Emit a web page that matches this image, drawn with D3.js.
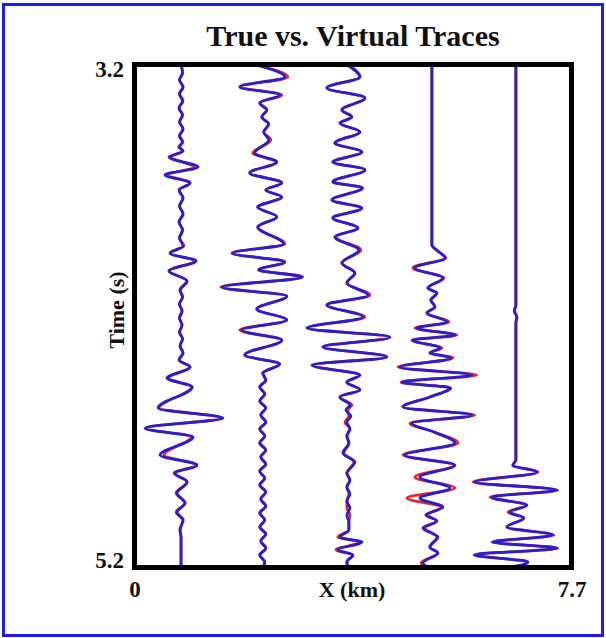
<!DOCTYPE html>
<html>
<head>
<meta charset="utf-8">
<script src="https://cdn.jsdelivr.net/npm/d3@7/dist/d3.min.js"></script>
<style>
  html, body { margin: 0; padding: 0; background: #fff; }
  svg { display: block; }
  text { font-family: "Liberation Serif", "Times New Roman", serif; font-weight: bold; fill: #111; }
  .axis path, .axis line { display: none; }
</style>
</head>
<body>
<svg id="chart" width="606" height="638"></svg>
<script>
// trace positions along the line (km)
var traceOffsets = [0.82, 2.26, 3.76, 5.24, 6.72];

// rows: [time (s), true amplitude, virtual amplitude]
var trace1 = [
  [3.200, 0, 0], [3.234, 1.5, 1.5], [3.262, -1.5, -1.5], [3.289, 2, 2], [3.317, -1.5, -1.5],
  [3.345, 2, 1.5], [3.373, -2, -2], [3.401, 1.5, 1.5], [3.429, -1.5, -1.5], [3.456, 2, 2],
  [3.484, -1.5, -1.5], [3.508, 1.5, 1.5], [3.528, -2.5, -1.5], [3.544, 2, 2], [3.568, -10, -12],
  [3.608, 13, 17], [3.639, -13, -16], [3.671, 9, 9], [3.699, -2, -2], [3.731, 2, 2],
  [3.763, -1.5, -1.5], [3.794, 2, 2], [3.826, -2, -2], [3.858, 1.5, 1.5], [3.890, -1.5, -1.5],
  [3.922, 3, 2], [3.950, -11, -11], [3.981, 13, 15], [4.021, -12, -12], [4.061, 6, 6],
  [4.097, -1, -1], [4.124, 1.5, 1.5], [4.152, -1.5, -1.5], [4.180, 1, 1], [4.208, -1.5, -1.5],
  [4.236, 1, 1], [4.264, -1.5, -1.5], [4.291, 1.5, 1.5], [4.319, -1, -1], [4.347, 2, 2],
  [4.375, -2, -2], [4.403, 9, 9], [4.447, -13, -14], [4.482, 11, 11], [4.566, -22, -23],
  [4.606, 40, 42], [4.646, -35, -36], [4.681, 10, 12], [4.753, -17, -21], [4.793, 15, 16],
  [4.825, -7, -6], [4.860, 6, 6], [4.904, -5, -4], [4.944, 4, 4], [4.980, -5, -4],
  [5.011, 2, 2], [5.051, -1, -1], [5.079, 0, 0], [5.200, 0, 0]
];

var trace2 = [
  [3.200, -8, -8], [3.250, 25, 22], [3.289, -22, -23], [3.321, 19, 17], [3.353, -3, -3],
  [3.381, 4, 4], [3.409, -1, -1], [3.437, 6, 6], [3.468, 1, 1], [3.500, 8, 6],
  [3.552, -10, -8], [3.588, 14, 14], [3.631, -13, -13], [3.671, 19, 19], [3.699, 3, 3],
  [3.727, 19, 19], [3.767, -5, -5], [3.806, 14, 14], [3.846, -5, -5], [3.914, 22, 21],
  [3.950, -31, -30], [3.985, 22, 22], [4.017, -4, -4], [4.045, 40, 39], [4.085, -42, -41],
  [4.121, 24, 24], [4.172, -6, -6], [4.216, 24, 24], [4.256, -23, -21], [4.296, 19, 19],
  [4.355, -18, -18], [4.391, 17, 17], [4.427, 0, 0], [4.455, 3, 3], [4.482, -3, -3],
  [4.510, 2, 2], [4.538, -3, -3], [4.566, 3, 3], [4.594, -2, -2], [4.622, 3, 3],
  [4.649, -3, -3], [4.677, 2, 2], [4.705, -3, -3], [4.733, 3, 3], [4.761, -2, -2],
  [4.789, 3, 3], [4.817, -3, -3], [4.845, 2, 2], [4.872, -3, -3], [4.900, 3, 3],
  [4.928, -2, -2], [4.956, 3, 3], [4.984, -3, -3], [5.011, 2, 2], [5.039, -3, -3],
  [5.067, 3, 3], [5.095, -2, -2], [5.123, 3, 3], [5.150, -3, -3], [5.178, 2, 2], [5.200, 0, 0]
];

var trace3 = [
  [3.200, -1, -1], [3.250, 12, 12], [3.293, -21, -21], [3.333, 17, 17], [3.381, -6, -6],
  [3.409, 4, 4], [3.433, -8, -8], [3.468, 12, 12], [3.512, -13, -13], [3.548, 14, 14],
  [3.588, -15, -15], [3.619, 17, 17], [3.667, -15, -15], [3.691, 15, 14], [3.739, -16, -16],
  [3.771, 14, 14], [3.810, -15, -15], [3.850, 10, 10], [3.886, -12, -13], [3.938, 13, 11],
  [3.989, -6, -6], [4.029, 7, 7], [4.069, -1, -1], [4.117, 22, 20], [4.156, -21, -21],
  [4.204, 17, 15], [4.248, -41, -41], [4.284, 42, 42], [4.323, -25, -25], [4.363, 39, 39],
  [4.395, -36, -36], [4.435, 12, 12], [4.463, -1, -1], [4.494, 12, 12], [4.522, -8, -8],
  [4.554, 4, 2], [4.574, 0, -2], [4.598, 1, 3], [4.622, -3, -1], [4.649, 2, 2],
  [4.677, -1, -1], [4.705, 1, 1], [4.745, -4, -5], [4.781, 6, 7], [4.825, -1, -1],
  [4.853, 2, 2], [4.880, -1, -1], [4.908, 1, 2], [4.936, -1, -1], [4.964, -1, 2],
  [4.991, 2, -1], [5.019, 1, 1], [5.051, 1, 1], [5.079, -10, -8], [5.099, 12, 14],
  [5.130, -12, -10], [5.150, 5, 5], [5.178, -1, -1], [5.200, 0, 0]
];

var trace4 = [
  [3.200, 0, 0], [3.918, 0, 0], [3.942, 6, 6], [3.969, 14, 13], [4.009, -19, -17],
  [4.049, 12, 11], [4.089, -4, -4], [4.109, 5, 5], [4.136, -1, -1], [4.164, 3, 3],
  [4.188, -5, -5], [4.224, 17, 15], [4.248, -17, -15], [4.276, 25, 23], [4.296, -20, -19],
  [4.327, 10, 8], [4.347, -2, -2], [4.367, 21, 19], [4.403, -34, -32], [4.435, 45, 40],
  [4.463, -31, -30], [4.486, 19, 18], [4.522, -2, -2], [4.562, -29, -29], [4.594, 43, 40],
  [4.626, -22, -20], [4.661, 2, 2], [4.705, 26, 23], [4.753, -29, -27], [4.793, 22, 23],
  [4.841, -17, -12], [4.884, 23, 18], [4.924, -25, -12], [4.960, 9, 11], [4.991, -4, -6],
  [5.015, 5, 5], [5.043, -7, -9], [5.079, 5, 6], [5.119, -2, -2], [5.142, 6, 6],
  [5.182, -11, -9], [5.200, -3, -3]
];

var trace5 = [
  [3.200, 0, 0], [4.156, 0, 0], [4.180, -1.5, -1.5], [4.204, 1, 1], [4.228, 0, 0],
  [4.773, 0, 0], [4.793, -3, -3], [4.821, 22, 21], [4.860, -43, -41], [4.892, 42, 41],
  [4.920, -26, -24], [4.952, 10, 11], [4.980, -8, -6], [5.003, 8, 8], [5.039, -9, -9],
  [5.071, 38, 37], [5.099, -24, -23], [5.123, 42, 41], [5.150, -42, -41], [5.178, 12, 12],
  [5.200, -6, -6]
];

var traces = [trace1, trace2, trace3, trace4, trace5];
var xTicks = [0, 7.7];
var yTicks = [3.2, 5.2];
var seriesNames = ["True", "Virtual"];
var seriesColors = ["#e3282c", "#2a1fc9"];

var width = 606, height = 638;
var margins = { top: 64.5, right: 34.5, bottom: 70.5, left: 134.5 };
var chartWidth = width - margins.left - margins.right;
var chartHeight = height - margins.top - margins.bottom;

var svg = d3.select("#chart");

// page border
svg.append("rect")
  .attr("x", 3.5).attr("y", 4.5)
  .attr("width", width - 7).attr("height", height - 7)
  .attr("fill", "none")
  .attr("stroke", "#1c1cf2")
  .attr("stroke-width", 3);

var chartElement = svg.append("g")
  .attr("transform", "translate(" + margins.left + "," + margins.top + ")");

var xScale = d3.scaleLinear().domain([0, 7.7]).range([0, chartWidth]);
var yScale = d3.scaleLinear().domain([3.2, 5.2]).range([0, chartHeight]);
// trace gain: amplitude units -> km offset
var ampScale = d3.scaleLinear().domain([-50, 50]).range([-0.881, 0.881]);

chartElement.append("clipPath").attr("id", "plot-clip")
  .append("rect")
  .attr("width", chartWidth).attr("height", chartHeight);

var traceGroup = chartElement.append("g").attr("clip-path", "url(#plot-clip)");

// true (red) first, virtual (blue) on top
[1, 2].forEach(function (k) {
  traces.forEach(function (rows, i) {
    var line = d3.line()
      .x(function (d) { return xScale(traceOffsets[i] + ampScale(d[k])); })
      .y(function (d) { return yScale(d[0]); })
      .curve(d3.curveMonotoneY);
    traceGroup.append("path")
      .datum(rows)
      .attr("class", "trace " + seriesNames[k - 1].toLowerCase())
      .attr("d", line)
      .attr("fill", "none")
      .attr("stroke", seriesColors[k - 1])
      .attr("stroke-width", 2.8)
      .attr("stroke-linejoin", "round");
  });
});

// frame
chartElement.append("rect")
  .attr("width", chartWidth).attr("height", chartHeight)
  .attr("fill", "none")
  .attr("stroke", "#000")
  .attr("stroke-width", 5);

// axes
var yAxis = d3.axisLeft(yScale).tickValues(yTicks).tickSize(0).tickPadding(10.5)
  .tickFormat(d3.format(".1f"));
var yAxisG = chartElement.append("g").attr("class", "y axis").call(yAxis);
yAxisG.selectAll("text")
  .attr("font-size", 23)
  .attr("dy", function (d, i) { return i === 0 ? "0.54em" : "-0.02em"; });

var xAxis = d3.axisBottom(xScale).tickValues(xTicks).tickSize(0).tickPadding(13)
  .tickFormat(function (d) { return d === 0 ? "0" : d3.format(".1f")(d); });
var xAxisG = chartElement.append("g").attr("class", "x axis")
  .attr("transform", "translate(0," + chartHeight + ")")
  .call(xAxis);
xAxisG.selectAll("text").attr("font-size", 23);

chartElement.append("text")
  .attr("x", chartWidth / 2 - 1)
  .attr("y", chartHeight + 29.5)
  .attr("text-anchor", "middle")
  .attr("font-size", 22)
  .text("X (km)");

chartElement.append("text")
  .attr("transform", "translate(-11," + (chartHeight / 2 - 6) + ") rotate(-90)")
  .attr("text-anchor", "middle")
  .attr("font-size", 22)
  .text("Time (s)");

svg.append("text")
  .attr("x", margins.left + chartWidth / 2)
  .attr("y", 46)
  .attr("text-anchor", "middle")
  .attr("font-size", 30)
  .text("True vs. Virtual Traces");
</script>
</body>
</html>
